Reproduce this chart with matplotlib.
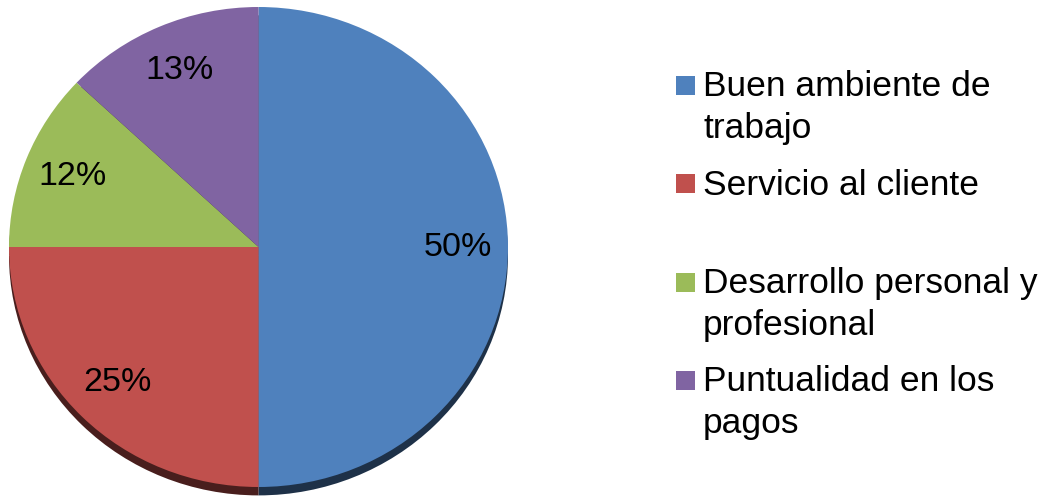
import numpy as np
import matplotlib
matplotlib.use('Agg')
import matplotlib.pyplot as plt
from matplotlib.patches import Rectangle
from matplotlib.colors import to_rgb

plt.rcParams['font.family'] = ['Liberation Sans', 'DejaVu Sans']

# datos
categorias = ['Buen ambiente de\ntrabajo', 'Servicio al cliente\n ',
              'Desarrollo personal y\nprofesional', 'Puntualidad en los\npagos']
porcentajes = [50, 25, 12, 13]
colores = ['#4F81BD', '#C0504D', '#9BBB59', '#8064A2']

W, H = 1050, 498
fig = plt.figure(figsize=(W / 100, H / 100), dpi=100)

# ejes del pastel (en pixeles: x 9..508, y 7..487)
ax = fig.add_axes([9 / W, 1 - 487 / H, 499 / W, 480 / H])

# sombra: mismo pastel mas oscuro, corrido hacia abajo
sombra = [tuple(np.array(to_rgb(c)) * 0.38) for c in colores]
ax.pie(porcentajes, colors=sombra, startangle=90, counterclock=False,
       center=(0, -0.035), radius=1, wedgeprops={'linewidth': 0})

wedges, textos, autotextos = ax.pie(
    porcentajes, colors=colores, startangle=90, counterclock=False,
    radius=1, autopct='%1.0f%%', pctdistance=0.8,
    wedgeprops={'linewidth': 0},
    textprops={'fontsize': 24.5, 'color': 'black'})

ax.set_aspect('auto')
ax.set_xlim(-1, 1)
ax.set_ylim(-1, 1)
ax.axis('off')

# leyenda a mano (va='baseline' usa la ultima linea del texto)
x_cuadro, lado = 676, 19
x_texto = 703
for i, (cat, col) in enumerate(zip(categorias, colores)):
    base = 97 + i * 98.3
    fig.patches.append(Rectangle((x_cuadro / W, 1 - (base - 2) / H), lado / W, lado / H,
                                 transform=fig.transFigure, facecolor=col,
                                 edgecolor='none'))
    fig.text(x_texto / W, 1 - (base + 41) / H, cat, fontsize=25.5, va='baseline',
             ha='left', linespacing=1.33)

fig.savefig('out.png', dpi=100)
